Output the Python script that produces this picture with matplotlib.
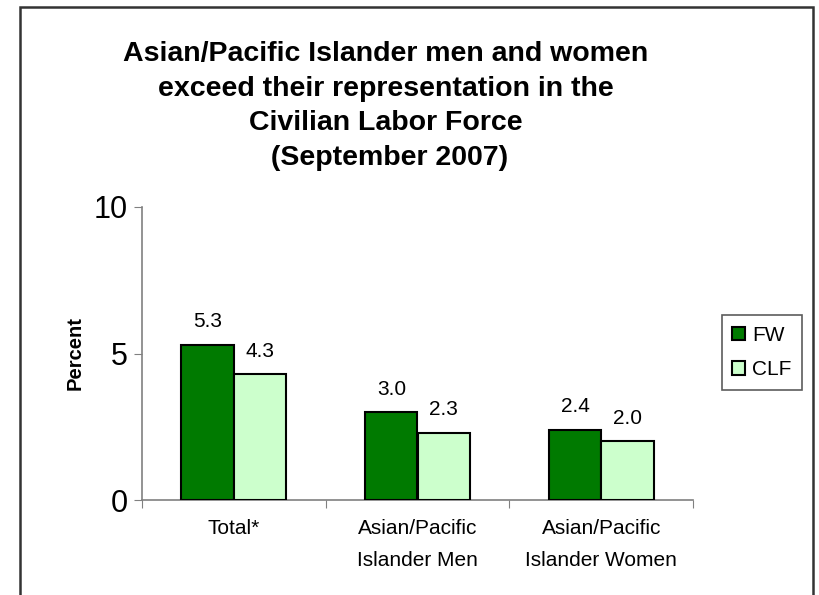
import matplotlib
matplotlib.use("Agg")
import matplotlib.pyplot as plt
import numpy as np
from matplotlib.patches import Rectangle

categories = ["Total*", "Asian/Pacific\nIslander Men", "Asian/Pacific\nIslander Women"]
fw = [5.3, 3.0, 2.4]
clf = [4.3, 2.3, 2.0]
series_names = ["FW", "CLF"]
yticks = [0, 5, 10]
title_lines = ["Asian/Pacific Islander men and women",
               "exceed their representation in the",
               "Civilian Labor Force",
               " (September 2007)"]

plt.rcParams['font.family'] = ['Liberation Sans', 'DejaVu Sans']

fig = plt.figure(figsize=(8.2, 5.95), dpi=100)
ax = fig.add_axes([142/820, 1-500/595, (693-142)/820, (500-207)/595])

x = np.arange(len(categories))
w = 0.285
b1 = ax.bar(x - w/2, fw, w, color="#007A00", edgecolor="black", linewidth=1.5, label=series_names[0], zorder=3)
b2 = ax.bar(x + w/2, clf, w, color="#CCFFCC", edgecolor="black", linewidth=1.5, label=series_names[1], zorder=3)

for rects, vals in ((b1, fw), (b2, clf)):
    for r, v in zip(rects, vals):
        ax.annotate(f"{v:.1f}", (r.get_x() + r.get_width()/2, v), xytext=(0, 12.5),
                    textcoords="offset points", ha="center", va="baseline", fontsize=15)

ax.set_xlim(-0.5, len(categories) - 0.5)
ax.set_ylim(0, 10)
ax.set_yticks(yticks)
ax.set_yticklabels([str(t) for t in yticks], fontsize=22)
ax.set_xticks(np.arange(len(categories) + 1) - 0.5)
ax.set_xticklabels([])
ax.set_xticks(x, minor=True)
ax.set_xticklabels(categories, minor=True, fontsize=15, linespacing=1.85)
ax.tick_params(axis="x", which="minor", length=0, pad=14)
ax.tick_params(axis="x", which="major", length=6, color="#808080", direction="out")
ax.tick_params(axis="y", length=6, color="#808080", direction="out", pad=4)

for s in ("top", "right"):
    ax.spines[s].set_visible(False)
for s in ("left", "bottom"):
    ax.spines[s].set_color("#808080")
    ax.spines[s].set_linewidth(1.2)

ax.set_ylabel("Percent", fontsize=14.5, fontweight="bold", labelpad=7)

leg = ax.legend(loc="center left", bbox_to_anchor=(722/820, 1-352.5/595), bbox_transform=fig.transFigure,
                fontsize=15, frameon=True, fancybox=False, edgecolor="#333333",
                handlelength=0.6, handleheight=0.6, handletextpad=0.35, labelspacing=0.75,
                borderpad=0.5, borderaxespad=0)
leg.get_frame().set_linewidth(1.2)
for h in leg.legend_handles:
    h.set_linewidth(1.5)

fig.text(386/820, 1-106/595, "\n".join(title_lines), ha="center", va="center",
         fontsize=20.5, fontweight="bold", linespacing=1.44)

rect = Rectangle((20/820, -0.1), (813-20)/820, 1.1 - 7/595, transform=fig.transFigure,
                 fill=False, edgecolor="#333333", linewidth=1.8, clip_on=False)
fig.patches.append(rect)

fig.savefig("out.png", dpi=100)
